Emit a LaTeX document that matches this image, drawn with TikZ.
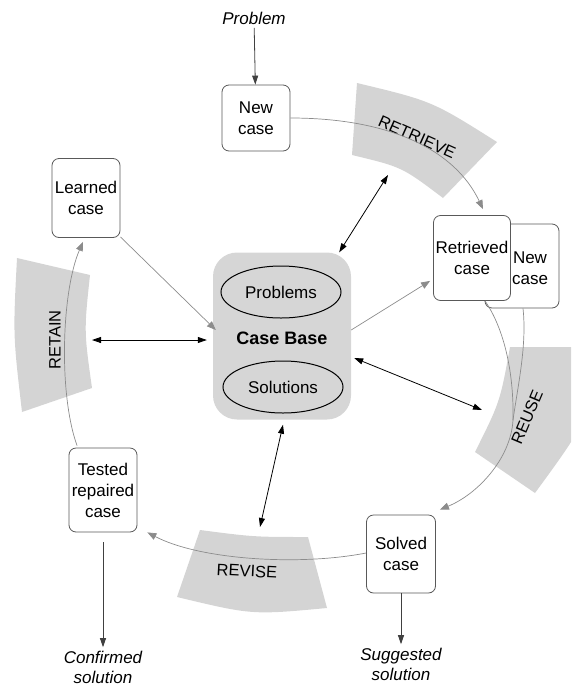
\documentclass[tikz,border=0pt]{standalone}
\usepackage{fontspec}
\setmainfont{Liberation Sans}
\usetikzlibrary{positioning, shapes, calc, arrows.meta}

\definecolor{bandgray}{gray}{0.83}
\definecolor{basegray}{gray}{0.84}
\definecolor{flowgray}{gray}{0.55}

\begin{document}
\begin{tikzpicture}[
		x=1pt, y=-1pt,
		every node/.style={font=\fontsize{17}{21}\selectfont},
		casebox/.style={draw=black!65, fill=white, rounded corners=7pt, align=center, line width=0.8pt, inner sep=0pt},
		casebase/.style={fill=basegray, rounded corners=24pt, minimum width=138pt, minimum height=167pt, inner sep=0pt},
		store/.style={draw, ellipse, line width=1pt, minimum width=120pt, minimum height=52pt, inner sep=0pt},
		band/.style={fill=bandgray},
		phase/.style={font=\fontsize{16.5}{18}\selectfont},
		flow/.style={draw=flowgray, line width=0.7pt, -{Triangle[length=9pt, width=7pt]}, color=flowgray},
		link/.style={draw=black, line width=0.8pt, {Triangle[length=9pt, width=6pt]}-{Triangle[length=9pt, width=6pt]}},
		arrow/.style={draw=black!75, line width=0.8pt, -{Triangle[length=9pt, width=6pt]}},
		result/.style={font=\fontsize{17}{20}\selectfont\itshape, align=center}
		]
		\useasboundingbox (0,0) rectangle (571,686);
		\clip (0,0) rectangle (571,686);

		% the four phase bands
		\fill[band] (357,83) .. controls (432,101) .. (497,142) -- (443,198) .. controls (402,167) .. (352,155) -- cycle;
		\fill[band] (510,347) -- (610,347) .. controls (584,426) .. (535,493) -- (475,452) .. controls (500,402) .. cycle;
		\fill[band] (17,258) -- (90,275) .. controls (84,331) .. (92,388) -- (22,412) .. controls (13,335) .. cycle;
		\fill[band] (200,530) .. controls (254,537) .. (308,537) -- (327,608) .. controls (252,615) .. (177,597) -- cycle;

		\node[phase, rotate=-24] (retrieve) at (417,137) {RETRIEVE};
		\node[phase, rotate=67] (reuse) at (527,417) {REUSE};
		\node[phase, rotate=90] (retain) at (55,340) {RETAIN};
		\node[phase, rotate=-3] (revise) at (247,571) {REVISE};

		% Case Base
		\node[casebase] (base) at (282,336) {};
		\node[store] (problems) at (281,292) {Problems};
		\node[font=\fontsize{18}{20}\selectfont\bfseries] (basetext) at (282,338) {Case Base};
		\node[store] (solutions) at (283,387) {Solutions};

		% cases round the cycle
		\node[result] (problem) at (254,18) {Problem};
		\node[casebox, minimum width=68pt, minimum height=66pt] (new) at (256,118) {New\\case};
		\node[casebox, minimum width=74pt, minimum height=84pt] (newb) at (522,266) {};
		\node[align=center] (newbtext) at (530,268) {New\\case};
		\node[casebox, minimum width=77pt, minimum height=85pt] (ret) at (472,258) {Retrieved\\case};
		\node[casebox, minimum width=69pt, minimum height=78pt] (solved) at (401,554) {Solved\\case};
		\node[casebox, minimum width=68pt, minimum height=84pt] (tested) at (103,490) {Tested\\repaired\\case};
		\node[casebox, minimum width=68pt, minimum height=79pt] (learned) at (86,198) {Learned\\case};
		\node[result] (suggested) at (401,664) {Suggested\\solution};
		\node[result] (confirmed) at (103,667) {Confirmed\\solution};

		% ends of the links at the bands
		\coordinate (retrieve-in) at (388,175);
		\coordinate (reuse-in) at (482,410);
		\coordinate (retain-in) at (92,340);
		\coordinate (revise-in) at (260,527);
		\coordinate (merge) at (513,420);

		% the cycle
		\draw[flow] (new.east) .. controls (390,118) and (455,150) .. ([xshift=11pt, yshift=6pt]ret.north);
		\draw[draw=flowgray, line width=0.7pt] ([xshift=13pt]ret.south) .. controls (505,330) and (514,375) .. (merge);
		\draw[draw=flowgray, line width=0.7pt] ([xshift=1pt]newb.south) .. controls (527,345) and (518,385) .. (merge);
		\draw[flow] (merge) .. controls (511,458) and (478,494) .. ([xshift=4pt, yshift=5pt]solved.north east);
		\draw[flow] ([yshift=1pt]solved.west) .. controls (300,566) and (200,560) .. ([xshift=10pt]tested.south east);
		\draw[flow] ([xshift=-26pt, yshift=2pt]tested.north) .. controls (58,392) and (62,290) .. ([xshift=-3pt, yshift=-4pt]learned.south);
		\draw[flow] ([yshift=1pt]learned.south east) -- ([xshift=3pt, yshift=6pt]base.west);
		\draw[flow] ([yshift=6pt]base.east) -- ([xshift=-3pt, yshift=20pt]ret.south west);

		% links to the Case Base
		\draw[link] ([xshift=-12pt]base.north east) -- (retrieve-in);
		\draw[link] (retain-in) -- ([xshift=-6pt, yshift=-4pt]base.west);
		\draw[link] ([xshift=3pt, yshift=-22pt]base.east) -- (reuse-in);
		\draw[link] ([xshift=1pt, yshift=-5pt]base.south) -- (revise-in);

		% input and outputs
		\draw[arrow] (problem) -- (new);
		\draw[arrow] ([yshift=-10pt]tested.south) -- (confirmed);
		\draw[arrow] (solved.south) -- (suggested);
	\end{tikzpicture}
\end{document}
